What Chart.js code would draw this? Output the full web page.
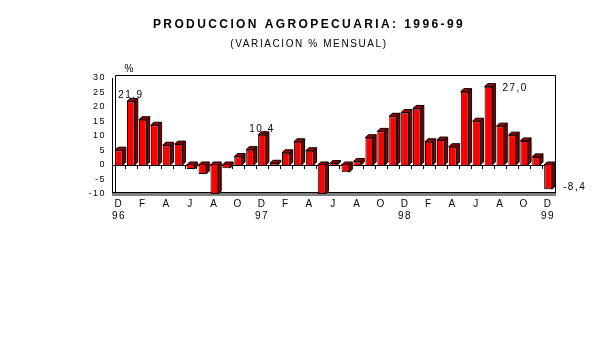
<!DOCTYPE html>
<html>
<head>
<meta charset="utf-8">
<script src="https://cdn.jsdelivr.net/npm/chart.js@4.4.1/dist/chart.umd.min.js"></script>
<style>
  body { margin: 0; background: #fff; }
  canvas { display: block; }
</style>
</head>
<body>
<canvas id="myChart" width="608" height="359"></canvas>
<script>
// meses dic 1996 - dic 1999
const meses = ['D',
  'E','F','M','A','M','J','J','A','S','O','N','D',
  'E','F','M','A','M','J','J','A','S','O','N','D',
  'E','F','M','A','M','J','J','A','S','O','N','D'];
const anios = {0: '96', 12: '97', 24: '98', 36: '99'};
const variacion = [5.1,
  21.9, 15.6, 13.7, 6.8, 7.2, -1.4, -3.1, -10, -1.1, 2.9, 5.3, 10.4,
  0.6, 4.2, 8.0, 4.9, -10, 0.5, -2.5, 1.2, 9.4, 11.6, 16.8, 18.1,
  19.5, 8.0, 8.6, 6.3, 25.3, 15.1, 27.0, 13.4, 10.3, 8.3, 2.8, -8.4];
const etiquetados = [1, 12, 31, 36];
const yTicks = [-10, -5, 0, 5, 10, 15, 20, 25, 30];

const FONT = '"Liberation Sans", Arial, sans-serif';

function fmt(v) {
  return v.toFixed(1).replace('.', ',');
}

const spacing = {
  id: 'spacing',
  beforeLayout(chart) { chart.ctx.letterSpacing = '1.5px'; },
  beforeDraw(chart) { chart.ctx.letterSpacing = '1.5px'; }
};

const marco = {
  id: 'marco',
  beforeDatasetsDraw(chart) {
    const ctx = chart.ctx;
    const a = chart.chartArea;
    const y0 = chart.scales.y.getPixelForValue(0);
    ctx.save();
    ctx.strokeStyle = '#000';
    ctx.lineWidth = 1;
    // pared del fondo
    ctx.beginPath();
    ctx.moveTo(a.left + 2.5, a.bottom - 2);
    ctx.lineTo(a.left + 2.5, a.top - 2.5);
    ctx.lineTo(a.right + 1.5, a.top - 2.5);
    ctx.lineTo(a.right + 1.5, a.bottom - 2);
    ctx.stroke();
    ctx.beginPath();
    ctx.moveTo(a.left - 0.5, a.top);
    ctx.lineTo(a.left - 0.5, a.bottom + 1);
    ctx.stroke();
    // piso
    ctx.fillStyle = '#808080';
    ctx.fillRect(a.left - 1, a.bottom - 1, a.right - a.left + 3, 3);
    ctx.beginPath();
    ctx.moveTo(a.left, a.bottom - 1.5);
    ctx.lineTo(a.right + 2, a.bottom - 1.5);
    ctx.stroke();
    // linea cero
    ctx.beginPath();
    ctx.moveTo(a.left, Math.round(y0) + 0.5);
    ctx.lineTo(a.right, Math.round(y0) + 0.5);
    ctx.stroke();
    const n = meses.length;
    const w = (a.right - a.left) / n;
    ctx.beginPath();
    for (let i = 1; i < n; i++) {
      const x = Math.round(a.left + i * w) + 0.5;
      ctx.moveTo(x, Math.round(y0) + 1);
      ctx.lineTo(x, Math.round(y0) + 4);
    }
    ctx.stroke();

    // caras laterales de las barras
    const d = 3;
    chart.getDatasetMeta(0).data.forEach(bar => {
      const l = bar.x - bar.width / 2;
      const r = bar.x + bar.width / 2;
      const t = Math.min(bar.y, bar.base);
      const b = Math.max(bar.y, bar.base);
      ctx.fillStyle = '#a00000';
      ctx.beginPath();
      ctx.moveTo(l, t);
      ctx.lineTo(l + d, t - d);
      ctx.lineTo(r + d, t - d);
      ctx.lineTo(r, t);
      ctx.closePath();
      ctx.fill();
      ctx.stroke();
      ctx.fillStyle = '#800000';
      ctx.beginPath();
      ctx.moveTo(r, t);
      ctx.lineTo(r + d, t - d);
      ctx.lineTo(r + d, b - d);
      ctx.lineTo(r, b);
      ctx.closePath();
      ctx.fill();
      ctx.stroke();
    });
    ctx.restore();
  },
  afterDraw(chart) {
    const ctx = chart.ctx;
    ctx.save();
    ctx.fillStyle = '#000';
    ctx.textBaseline = 'middle';
    ctx.textAlign = 'center';
    ctx.letterSpacing = '2.4px';
    ctx.font = 'bold 12px ' + FONT;
    ctx.fillText('PRODUCCION AGROPECUARIA: 1996-99', 309, 25);
    ctx.letterSpacing = '1.6px';
    ctx.font = '10px ' + FONT;
    ctx.fillText('(VARIACION % MENSUAL)', 309, 44);
    ctx.letterSpacing = '0px';
    ctx.font = '10px ' + FONT;
    ctx.fillText('%', 129, 69);

    // valores destacados
    ctx.letterSpacing = '1.5px';
    ctx.font = '10px ' + FONT;
    const bars = chart.getDatasetMeta(0).data;
    etiquetados.forEach(i => {
      const bar = bars[i];
      const v = variacion[i];
      if (i === 31) {
        ctx.textAlign = 'left';
        ctx.fillText(fmt(v), bar.x + 14, bar.y + 2);
      } else if (v < 0) {
        ctx.textAlign = 'left';
        ctx.fillText(fmt(v), bar.x + 15, bar.y - 2);
      } else {
        ctx.textAlign = 'center';
        ctx.fillText(fmt(v), bar.x, bar.y - 6);
      }
    });
    ctx.restore();
  }
};

const ctx = document.getElementById('myChart');

new Chart(ctx, {
  type: 'bar',
  data: {
    labels: meses,
    datasets: [{
      data: variacion,
      backgroundColor: '#ff0000',
      borderColor: '#000000',
      borderWidth: 1,
      barPercentage: 0.65,
      categoryPercentage: 1
    }]
  },
  options: {
    responsive: false,
    animation: false,
    events: [],
    layout: { padding: { top: 78, right: 54, bottom: 125, left: 0 } },
    plugins: {
      legend: { display: false },
      tooltip: { enabled: false }
    },
    scales: {
      x: {
        grid: { display: false, drawTicks: false },
        border: { display: false },
        afterFit(scale) { scale.height = 40; },
        ticks: {
          autoSkip: false,
          maxRotation: 0,
          padding: 4,
          color: '#000',
          font: { family: FONT, size: 10 },
          callback(val, i) {
            if (i % 2 !== 0) return null;
            return anios[i] ? [meses[i], anios[i]] : meses[i];
          }
        }
      },
      y: {
        min: -10,
        max: 30,
        grid: { display: false, drawTicks: false },
        border: { display: false },
        afterFit(scale) { scale.width = 113; },
        afterBuildTicks(scale) { scale.ticks = yTicks.map(v => ({ value: v })); },
        ticks: {
          padding: 7,
          color: '#000',
          font: { family: FONT, size: 9 }
        }
      }
    }
  },
  plugins: [spacing, marco]
});
</script>
</body>
</html>
